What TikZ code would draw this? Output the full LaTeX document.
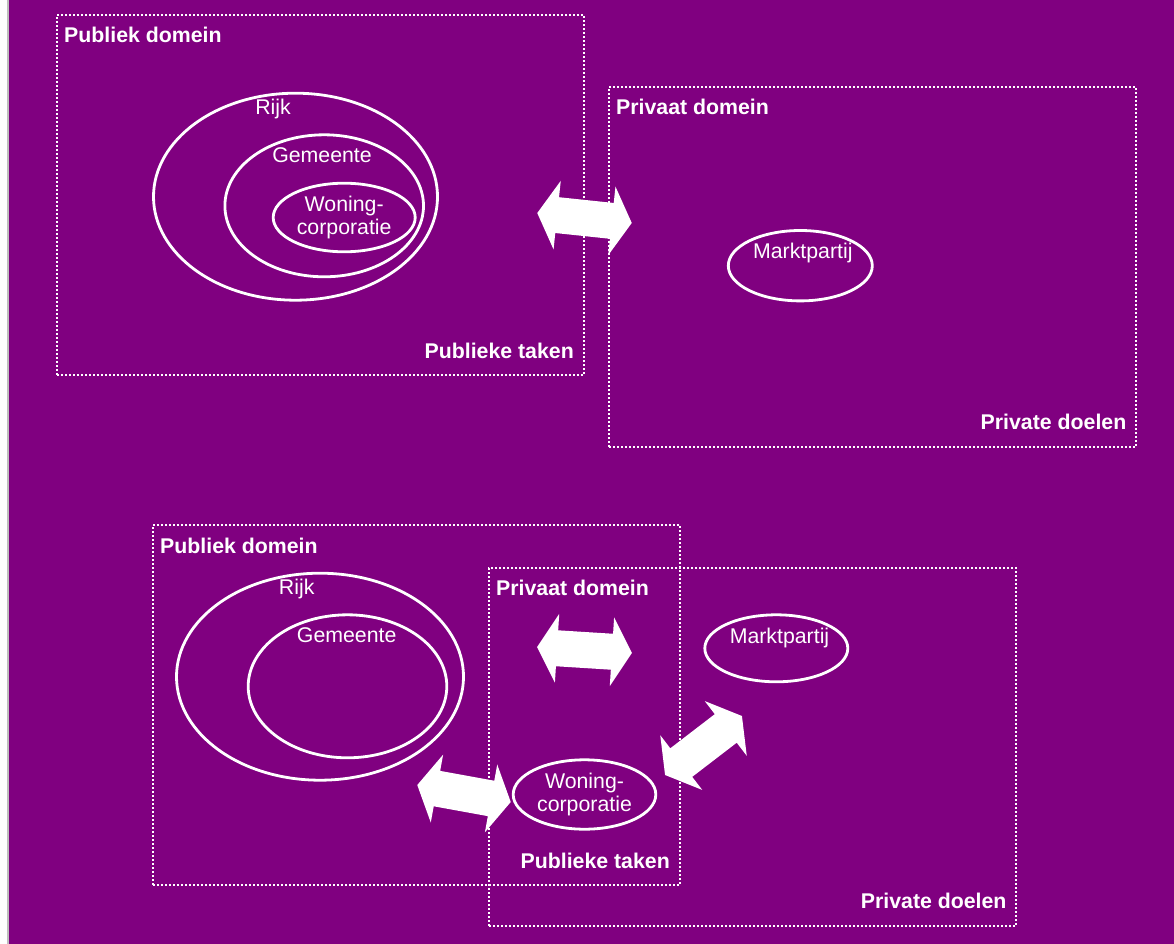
\documentclass[tikz,border=0pt]{standalone}
\usepackage{fontspec}
\setmainfont{Liberation Sans}
\usetikzlibrary{shapes.geometric,calc}
\definecolor{bgpurple}{RGB}{128,0,128}
\definecolor{edgegrey}{RGB}{190,190,190}
\begin{document}
\begin{tikzpicture}[x=1pt,y=1pt,
  domainbox/.style={draw=white, line width=2pt, dash pattern=on 2pt off 2pt,
    inner sep=0pt, anchor=north west, minimum width=527pt, minimum height=360pt},
  ring/.style={ellipse, draw=white, line width=2.8pt, inner sep=0pt},
  txt/.style={text=white, font=\fontsize{21.3}{23}\selectfont, inner sep=0pt},
  title/.style={text=white, font=\fontsize{21.3}{23}\selectfont\bfseries, inner sep=0pt},
  % broad two-headed block arrow, drawn along its local x axis
  flowarrow/.pic={
    \fill[white] (-47.5,0) -- (-27.5,34.5) -- (-27.5,18) -- (27.5,18)
      -- (27.5,34.5) -- (47.5,0) -- (27.5,-34.5) -- (27.5,-18)
      -- (-27.5,-18) -- (-27.5,-34.5) -- cycle;
  },
]
% canvas
\useasboundingbox (0,0) rectangle (1174,-944);
\fill[bgpurple] (0,0) rectangle (1174,-944);
\fill[white] (0,0) rectangle (7,-944);
\fill[edgegrey] (7,0) rectangle (9,-944);

% ---------- separated domains ----------
\node[domainbox] (pubA) at (56,-14) {};
\node[domainbox] (privA) at (608,-86) {};
\node[title, anchor=base west] (pubAt) at ($(pubA.north west)+(8,-29)$) {Publiek domein};
\node[title, anchor=base east] (pubAb) at ($(pubA.south east)+(-11,18)$) {Publieke taken};
\node[title, anchor=base west] (privAt) at ($(privA.north west)+(8,-28.5)$) {Privaat domein};
\node[title, anchor=base east] (privAb) at ($(privA.south east)+(-10.5,18.3)$) {Private doelen};

\node[ring, minimum width=284pt, minimum height=207pt] (rijkA) at (295.5,-196.7) {};
\node[ring, minimum width=198.6pt, minimum height=142pt] (gemA) at (324.2,-205.8) {};
\node[ring, txt, align=center, minimum width=142pt, minimum height=68.6pt] (wonA) at (344.2,-217.5) {Woning-\\corporatie};
\node[txt, anchor=base] (rijkAl) at (273,-114.3) {Rijk};
\node[txt, anchor=base] (gemAl) at (322,-162.7) {Gemeente};

\node[ring, minimum width=144pt, minimum height=70.4pt] (mpA) at (800.3,-265.7) {};
\node[txt, anchor=base] (mpAl) at ($(mpA.center)+(2.5,7.4)$) {Marktpartij};

\path (584.5,-218) pic[rotate=-6] (arA) {flowarrow};

% ---------- overlapping domains ----------
\node[domainbox] (pubB) at (152,-524) {};
\node[domainbox, minimum height=358pt] (privB) at (488,-567) {};
\node[title, anchor=base west] (pubBt) at ($(pubB.north west)+(8,-29)$) {Publiek domein};
\node[title, anchor=base east] (pubBb) at ($(pubB.south east)+(-11,18)$) {Publieke taken};
\node[title, anchor=base west] (privBt) at ($(privB.north west)+(8,-28.3)$) {Privaat domein};
\node[title, anchor=base east] (privBb) at ($(privB.south east)+(-10.3,18.3)$) {Private doelen};

\node[ring, minimum width=287pt, minimum height=207pt] (rijkB) at (320,-676.7) {};
\node[ring, minimum width=198.6pt, minimum height=143pt] (gemB) at (347.5,-686.3) {};
\node[txt, anchor=base] (rijkBl) at (296.7,-594.3) {Rijk};
\node[txt, anchor=base] (gemBl) at (346.7,-642.7) {Gemeente};

\node[ring, txt, align=center, minimum width=142.6pt, minimum height=69.4pt] (wonB) at (584.5,-794.5) {Woning-\\corporatie};
\node[ring, minimum width=143pt, minimum height=67pt] (mpB) at (776.3,-648.3) {};
\node[txt, anchor=base] (mpBl) at ($(mpB.center)+(3.2,5)$) {Marktpartij};

\path (584.5,-650) pic[rotate=-3.6] (arB) {flowarrow};
\path (464,-793.5) pic[rotate=-10.3] (arC) {flowarrow};
\path (703.5,-745.5) pic[rotate=37.5, xscale=1.02] (arD) {flowarrow};
\end{tikzpicture}
\end{document}
